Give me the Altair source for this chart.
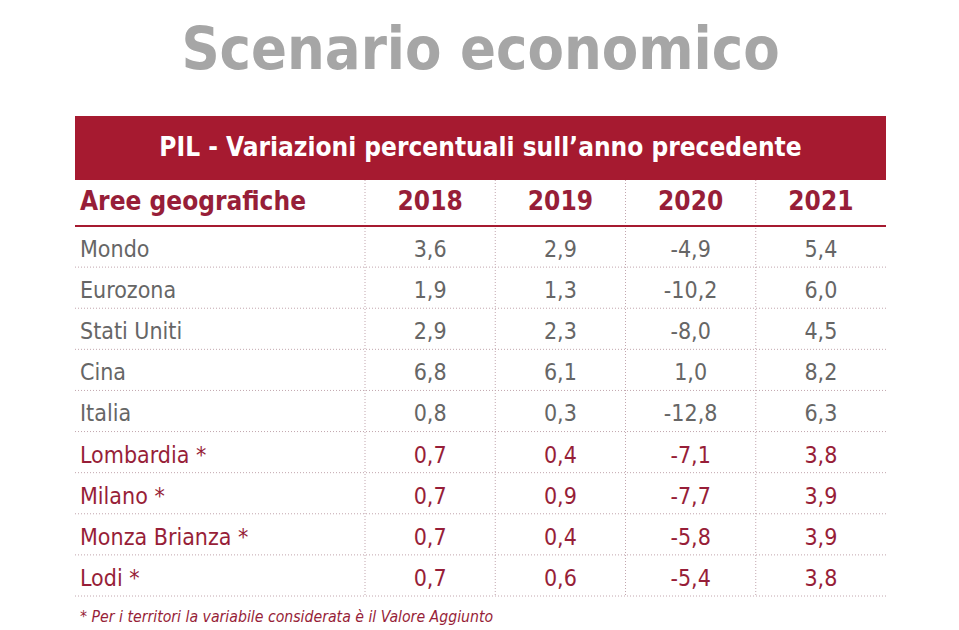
import altair as alt
import pandas as pd

# ---------------- data ----------------
title = "Scenario economico"
subtitle = "PIL - Variazioni percentuali sull’anno precedente"
header_label = "Aree geografiche"
years = ["2018", "2019", "2020", "2021"]
areas = ["Mondo", "Eurozona", "Stati Uniti", "Cina", "Italia",
         "Lombardia *", "Milano *", "Monza Brianza *", "Lodi *"]
groups = ["mondo"] * 5 + ["territori"] * 4
v2018 = [3.6, 1.9, 2.9, 6.8, 0.8, 0.7, 0.7, 0.7, 0.7]
v2019 = [2.9, 1.3, 2.3, 6.1, 0.3, 0.4, 0.9, 0.4, 0.6]
v2020 = [-4.9, -10.2, -8.0, 1.0, -12.8, -7.1, -7.7, -5.8, -5.4]
v2021 = [5.4, 6.0, 4.5, 8.2, 6.3, 3.8, 3.9, 3.9, 3.8]
footnote = "* Per i territori la variabile considerata è il Valore Aggiunto"

# ---------------- layout (page pixel units) ----------------
MARGIN = 8
W, H = 943, 620
LEFT, RIGHT = 75, 886
BAND_TOP, BAND_BOT = 116, 180
HEAD_LINE = 226
N = len(areas)
ROW_H = (596 - HEAD_LINE) / N
COL0 = 365
COL_W = (RIGHT - COL0) / len(years)
LABEL_X = 80
CENTER_X = (LEFT + RIGHT) / 2

FONT = "DejaVu Sans Condensed, DejaVu Sans"
RED = "#a61a30"
TEXT_RED = "#971e38"
GRAY = "#666666"
DOT = "#c2a6ae"

xs = alt.Scale(domain=[MARGIN, MARGIN + W])
ys = alt.Scale(domain=[MARGIN, MARGIN + H], reverse=True)


def X(f):
    return alt.X(f"{f}:Q", scale=xs, axis=None)


def Y(f):
    return alt.Y(f"{f}:Q", scale=ys, axis=None)


def fmt(v):
    return f"{v:.1f}".replace(".", ",")


# band
band_df = pd.DataFrame([{"x": LEFT, "x2": RIGHT, "y": BAND_TOP, "y2": BAND_BOT}])
band = alt.Chart(band_df).mark_rect(color=RED).encode(
    x=X("x"), x2="x2:Q", y=Y("y"), y2="y2:Q")

# title
title_df = pd.DataFrame([{"t": title, "x": CENTER_X, "y": 69}])
title_l = alt.Chart(title_df).mark_text(
    font=FONT, fontSize=59, fontWeight="bold", color="#a6a6a6",
    align="center", baseline="alphabetic").encode(x=X("x"), y=Y("y"), text="t:N")

sub_df = pd.DataFrame([{"t": subtitle, "x": CENTER_X, "y": 156}])
sub_l = alt.Chart(sub_df).mark_text(
    font=FONT, fontSize=26, fontWeight="bold", color="white",
    align="center", baseline="alphabetic").encode(x=X("x"), y=Y("y"), text="t:N")

# header row
head_df_l = pd.DataFrame([{"t": header_label, "x": LABEL_X, "y": 210}])
head_df_y = pd.DataFrame([{"t": y, "x": COL0 + (j + 0.5) * COL_W, "y": 210}
                          for j, y in enumerate(years)])
head_l = alt.Chart(head_df_l).mark_text(
    font=FONT, fontSize=26, fontWeight="bold", color=TEXT_RED,
    align="left", baseline="alphabetic").encode(x=X("x"), y=Y("y"), text="t:N")
head_y = alt.Chart(head_df_y).mark_text(
    font=FONT, fontSize=26, fontWeight="bold", color=TEXT_RED,
    align="center", baseline="alphabetic").encode(x=X("x"), y=Y("y"), text="t:N")

# rules
hline_df = pd.DataFrame([{"x": LEFT, "x2": RIGHT, "y": HEAD_LINE + (i + 1) * ROW_H}
                         for i in range(N)])
hlines = alt.Chart(hline_df).mark_rule(color=DOT, strokeDash=[1, 2], strokeWidth=1).encode(
    x=X("x"), x2="x2:Q", y=Y("y"))
vline_df = pd.DataFrame([{"x": COL0 + j * COL_W, "y": BAND_BOT, "y2": HEAD_LINE + N * ROW_H}
                         for j in range(len(years))])
vlines = alt.Chart(vline_df).mark_rule(color=DOT, strokeDash=[1, 2], strokeWidth=1).encode(
    x=X("x"), y=Y("y"), y2="y2:Q")
uline_df = pd.DataFrame([{"x": LEFT, "x2": RIGHT, "y": HEAD_LINE}])
uline = alt.Chart(uline_df).mark_rule(color=RED, strokeWidth=2).encode(
    x=X("x"), x2="x2:Q", y=Y("y"))

# body
cols = [v2018, v2019, v2020, v2021]
lab_rows, val_rows = [], []
for i, a in enumerate(areas):
    yb = HEAD_LINE + i * ROW_H + 31
    lab_rows.append({"t": a, "g": groups[i], "x": LABEL_X, "y": yb})
    for j, c in enumerate(cols):
        val_rows.append({"t": fmt(c[i]), "g": groups[i],
                         "x": COL0 + (j + 0.5) * COL_W, "y": yb})
color = alt.Color("g:N", scale=alt.Scale(domain=["mondo", "territori"],
                                         range=[GRAY, TEXT_RED]), legend=None)
labs = alt.Chart(pd.DataFrame(lab_rows)).mark_text(
    font=FONT, fontSize=23, align="left", baseline="alphabetic").encode(
    x=X("x"), y=Y("y"), text="t:N", color=color)
vals = alt.Chart(pd.DataFrame(val_rows)).mark_text(
    font=FONT, fontSize=23, align="center", baseline="alphabetic").encode(
    x=X("x"), y=Y("y"), text="t:N", color=color)

foot_df = pd.DataFrame([{"t": footnote, "x": LABEL_X, "y": 622}])
foot = alt.Chart(foot_df).mark_text(
    font=FONT, fontSize=15.7, fontStyle="italic", color=TEXT_RED,
    align="left", baseline="alphabetic").encode(x=X("x"), y=Y("y"), text="t:N")

chart = alt.layer(band, hlines, vlines, uline, title_l, sub_l, head_l, head_y,
                  labs, vals, foot).properties(
    width=W, height=H, padding=0, autosize=alt.AutoSizeParams(type="none")
).configure_view(stroke=None)

chart.save("out.html", embed_options={"renderer": "svg", "actions": False})
